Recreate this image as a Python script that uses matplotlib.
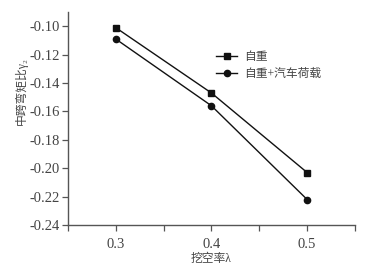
import matplotlib
matplotlib.use('Agg')
import matplotlib.pyplot as plt
from matplotlib.ticker import FixedLocator

plt.rcParams['axes.unicode_minus'] = False
plt.rcParams['font.family'] = ['Liberation Serif', 'Noto Sans CJK SC', 'DejaVu Sans']

# data
ratio = [0.3, 0.4, 0.5]
self_weight = [-0.101, -0.147, -0.203]
self_weight_truck = [-0.109, -0.156, -0.222]
yticks = [-0.10, -0.12, -0.14, -0.16, -0.18, -0.20, -0.22, -0.24]

text_color = '#444444'
axis_color = '#555555'

fig = plt.figure(figsize=(3.69, 2.67), dpi=100)
ax = fig.add_axes([0.184, 0.157, 0.778, 0.798])

ax.plot(ratio, self_weight, color='#111111', lw=1.0, marker='s', ms=4, label='自重')
ax.plot(ratio, self_weight_truck, color='#111111', lw=1.0, marker='o', ms=4.5, label='自重+汽车荷载')

ax.set_xlim(0.25, 0.55)
ax.set_ylim(-0.24, -0.09)
ax.set_xticks(ratio)
ax.set_xticklabels(['0.3', '0.4', '0.5'])
ax.xaxis.set_minor_locator(FixedLocator([0.25, 0.35, 0.45, 0.55]))
ax.set_yticks(yticks)
ax.set_yticklabels(['%.2f' % v for v in yticks])

for s in ['top', 'right']:
    ax.spines[s].set_visible(False)
for s in ['left', 'bottom']:
    ax.spines[s].set_color(axis_color)
    ax.spines[s].set_linewidth(1.0)
ax.tick_params(which='both', colors=axis_color, labelcolor=text_color, labelsize=10.5,
               length=4, width=0.9, direction='out', pad=2)
ax.tick_params(axis='x', which='both', pad=5)

ax.set_xlabel('挖空率λ', fontsize=8.5, color=text_color, labelpad=2)
ax.set_ylabel('中跨弯矩比γ₂', fontsize=8.5, color=text_color)
ax.yaxis.set_label_coords(-0.14, 0.63)

ax.legend(loc='upper left', bbox_to_anchor=(0.5, 0.84), frameon=False, fontsize=8.5,
          handlelength=1.8, handletextpad=0.6, labelspacing=0.45, borderaxespad=0,
          labelcolor=text_color)

fig.savefig('out.png', dpi=100)
